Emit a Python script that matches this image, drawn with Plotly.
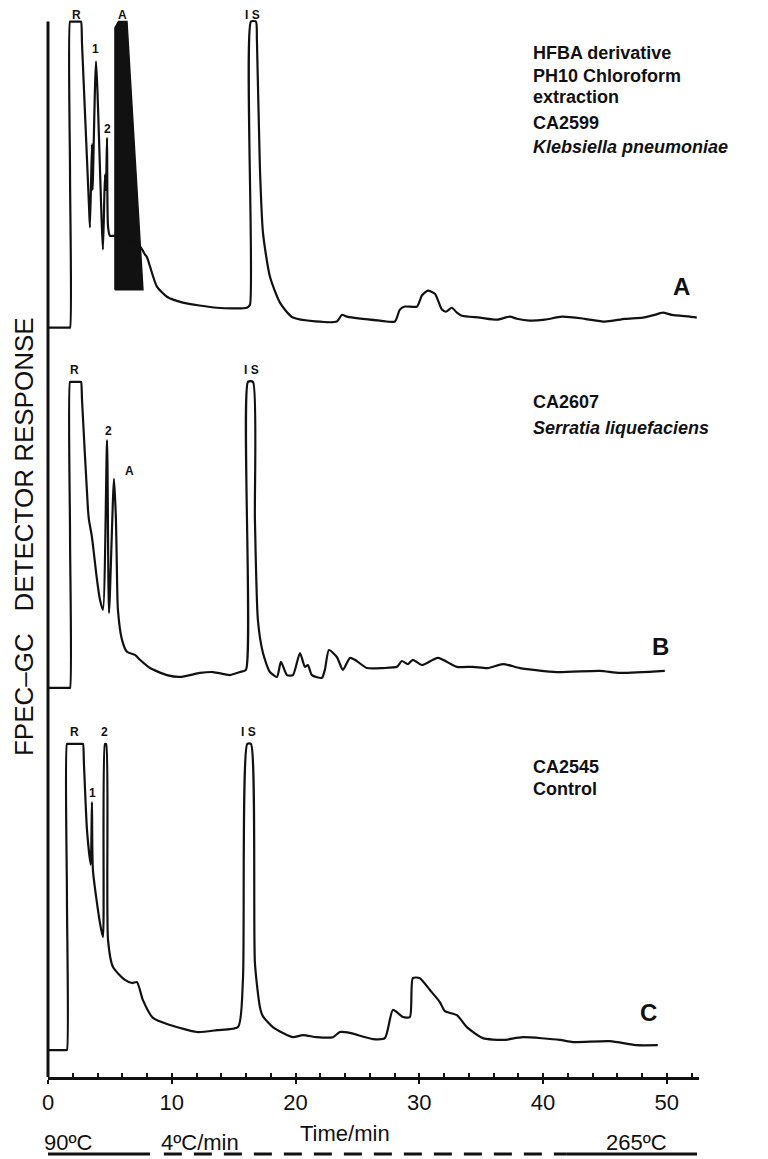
import plotly.graph_objects as go

# ---------------- data (time in min, detector response in arbitrary units; 100 = pen limit) -------------
A_time = [0, 1.70, 1.78, 1.78, 1.78, 1.86, 2.59, 2.67, 2.75, 3.31, 3.39, 3.55, 3.60, 3.88, 4.44,
          4.60, 4.68, 4.77, 4.85, 5.01, 5.41,
          7.43, 7.84, 8.00, 8.24, 8.80, 9.61, 10.90, 13.65, 16.07, 16.32, 16.40, 16.80, 16.88, 17.12,
          17.37, 17.93, 18.74, 19.79, 23.34, 23.75, 24.15, 26.82, 28.03, 28.43, 28.84, 29.81, 30.21,
          30.69, 31.26, 31.83, 32.15, 32.63, 33.04, 33.44, 34.89, 36.27, 37.32, 37.88, 38.93, 40.15,
          41.52, 43.38, 44.99, 46.61, 48.06, 49.03, 49.68, 50.40, 51.86, 52.42]
A_resp = [0, 0, 0, 50, 100, 100, 100, 100, 92.5, 40, 32.7, 60, 45, 87, 25.5,
          50, 45, 62, 33, 30, 30,
          26.5, 23.9, 23, 20, 13.4, 10.1, 8.2, 6.5, 6.5, 7.5, 100, 100, 94, 52.6,
          31, 16.7, 8.2, 3.3, 2.0, 4.2, 3.6, 2.3, 2.0, 5.9, 6.9, 6.9, 10.5,
          12.1, 11.1, 5.9, 5.2, 6.5, 4.9, 3.9, 3.3, 2.6, 3.6, 2.9, 2.3, 2.6,
          3.6, 2.9, 2.0, 2.9, 3.3, 4.2, 4.9, 4.2, 3.6, 3.3]
# unresolved (saturated) peak "A" in trace A, drawn as a solid black area
A_blob_time = [5.41, 5.41, 5.70, 6.38, 7.67, 5.41]
A_blob_resp = [12.4, 98, 100, 100, 12.4, 12.4]

B_time = [0, 1.70, 1.78, 1.78, 1.78, 1.86, 2.59, 2.67, 2.75, 3.23, 3.31, 3.55, 3.96, 4.20, 4.44,
          4.77, 4.93, 5.33, 5.49, 5.57,
          5.65, 5.98, 6.38, 7.03, 7.43, 8.24, 9.61, 10.66, 12.28, 13.33, 14.70, 15.51, 15.99, 16.16,
          16.56, 16.72, 16.96, 17.37, 17.93, 18.50, 18.82, 19.31, 19.79, 20.36, 20.76, 21.00, 21.32,
          22.13, 22.37, 22.70, 23.34, 23.83, 24.39, 24.80, 25.77, 27.06, 28.19, 28.59, 29.08, 29.48,
          30.21, 31.50, 33.04, 34.33, 35.54, 36.75, 38.13, 41.11, 44.59, 46.20, 49.84]
B_resp = [0, 0, 0, 50, 100, 100, 100, 100, 94, 58.2, 54.9, 49.3, 35.3, 28.8, 25.5,
          81.0, 24.5, 68.3, 54.9, 37.6,
          25.5, 15.7, 11.8, 10.8, 9.2, 6.5, 4.2, 3.6, 4.9, 5.2, 4.2, 5.2, 5.9, 100,
          100, 54.9, 22.2, 11.4, 5.2, 3.6, 8.5, 4.2, 4.2, 11.4, 6.9, 7.5, 4.2,
          3.3, 5.9, 12.4, 10.1, 5.9, 9.8, 9.2, 6.5, 6.5, 6.9, 8.8, 7.8, 9.2,
          7.5, 9.8, 6.9, 6.9, 6.5, 7.8, 6.5, 5.2, 5.6, 4.9, 5.6]

C_time = [0, 1.45, 1.53, 1.53, 1.53, 1.61, 2.75, 2.83, 2.90, 3.15, 3.45, 3.55, 3.63, 4.20, 4.44,
          4.60, 4.70, 4.85, 5.25, 6.22,
          6.79, 7.19, 7.67, 8.48, 9.85, 12.04, 13.65, 15.35, 15.75, 16.10, 16.40, 16.72, 17.12, 17.37,
          18.17, 18.98, 19.79, 20.60, 21.73, 23.02, 23.59, 24.39, 26.25, 27.22, 27.87, 28.68, 29.24,
          29.48, 30.05, 30.86, 31.66, 32.07, 33.04, 33.84, 35.14, 36.75, 38.37, 41.36, 42.41, 45.40,
          47.58, 49.27]
C_resp = [0, 0, 0, 50, 100, 100, 100, 100, 93.9, 71.9, 60.5, 81.0, 58.8, 41.5, 36.9,
          100, 100, 35.9, 27.1, 22.9,
          21.9, 22.2, 16.3, 10.5, 8.2, 5.9, 6.5, 7.5, 22.9, 100, 100, 28.4, 14.1, 11.0,
          7.5, 5.6, 4.2, 4.9, 4.2, 4.2, 5.9, 5.6, 3.6, 3.9, 13.1, 10.8, 10.8,
          23.5, 23.5, 19.6, 15.7, 12.7, 11.4, 7.5, 3.9, 3.3, 4.2, 3.3, 2.6, 2.9,
          1.6, 1.6]

# peak labels
A_lab_text = ["R", "1", "2", "A", "I S"]
A_lab_time = [2.34, 3.80, 4.77, 5.98, 16.56]
A_lab_resp = [102.2, 91, 65, 102.2, 102.2]
B_lab_text = ["R", "2", "A", "I S"]
B_lab_time = [2.18, 4.85, 6.62, 16.48]
B_lab_resp = [104, 84, 71, 104]
C_lab_text = ["R", "1", "2", "I S"]
C_lab_time = [2.18, 3.63, 4.60, 16.16]
C_lab_resp = [104, 84, 104, 104]

tick_vals = [0, 10, 20, 30, 40, 50]
tick_text = ["0", "10", "20", "30", "40", "50"]

# vertical stacking offsets of the three chromatograms (y units)
OFF_A, OFF_B, OFF_C = 244.8, 127.1, 8.8
Y_TOP = OFF_A + 100
PX_PER_UNIT = 3.061
PLOT_H = 1069  # plot-area height in px

INK = "#111111"
FONT = "Liberation Sans, Arial, Helvetica, sans-serif"

fig = go.Figure()

fig.add_trace(go.Scatter(x=A_blob_time, y=[OFF_A + r for r in A_blob_resp], mode="lines",
                         fill="toself", fillcolor=INK, line=dict(color=INK, width=1.5),
                         hoverinfo="skip"))
for t, r, off in [(A_time, A_resp, OFF_A), (B_time, B_resp, OFF_B), (C_time, C_resp, OFF_C)]:
    fig.add_trace(go.Scatter(x=t, y=[off + v for v in r], mode="lines",
                             line=dict(color=INK, width=2.2, shape="spline", smoothing=0.6)))

ann = []
for texts, ts, rs, off in [(A_lab_text, A_lab_time, A_lab_resp, OFF_A),
                           (B_lab_text, B_lab_time, B_lab_resp, OFF_B),
                           (C_lab_text, C_lab_time, C_lab_resp, OFF_C)]:
    for s, t, r in zip(texts, ts, rs):
        ann.append(dict(x=t, y=off + r, xref="x", yref="y", text="<b>%s</b>" % s, showarrow=False,
                        xanchor="center", yanchor="middle",
                        font=dict(family=FONT, size=12, color=INK)))

# chromatogram letters
for s, x, y in [("A", 51.2, 258.2), ("B", 49.5, 140.5), ("C", 48.5, 21.2)]:
    ann.append(dict(x=x, y=y, xref="x", yref="y", text="<b>%s</b>" % s, showarrow=False,
                    xanchor="center", yanchor="middle",
                    font=dict(family=FONT, size=24, color=INK)))

# sample descriptions
desc = [("<b>HFBA derivative</b>", 334.6), ("<b>PH10 Chloroform</b>", 327.1),
        ("<b>extraction</b>", 320.3), ("<b>CA2599</b>", 311.8),
        ("<b><i>Klebsiella pneumoniae</i></b>", 303.9),
        ("<b>CA2607</b>", 220.6), ("<b><i>Serratia liquefaciens</i></b>", 212.1),
        ("<b>CA2545</b>", 101.3), ("<b>Control</b>", 94.1)]
for s, y in desc:
    ann.append(dict(x=39.0, y=y, xref="x", yref="y", text=s, showarrow=False,
                    xanchor="left", yanchor="middle",
                    font=dict(family=FONT, size=18, color=INK)))

# axis title and temperature programme (paper coordinates)
ann.append(dict(x=-0.0369, y=0.506, xref="paper", yref="paper", textangle=-90, showarrow=False,
                xanchor="center", yanchor="middle",
                text="FPEC\u2013GC\u00a0\u00a0\u00a0DETECTOR RESPONSE",
                font=dict(family=FONT, size=26, color=INK)))
ann.append(dict(x=0.384, y=-0.0524, xref="paper", yref="paper", xanchor="left", yanchor="middle",
                showarrow=False, text="Time/min", font=dict(family=FONT, size=22, color=INK)))
for s, x in [("90\u00baC", -0.0092), ("4\u00baC/min", 0.1705), ("265\u00baC", 0.854)]:
    ann.append(dict(x=x, y=-0.0617, xref="paper", yref="paper", xanchor="left", yanchor="middle",
                    showarrow=False, text=s, font=dict(family=FONT, size=22, color=INK)))

y_temp = -0.072
shapes = [
    # y-axis line (from the x axis up to the pen limit of the top trace)
    dict(type="line", xref="paper", yref="paper", x0=0, x1=0, y0=0,
         y1=Y_TOP * PX_PER_UNIT / PLOT_H, line=dict(color=INK, width=3)),
    dict(type="line", xref="paper", yref="paper", x0=0, x1=0.1567, y0=y_temp, y1=y_temp,
         line=dict(color=INK, width=3)),
    dict(type="line", xref="paper", yref="paper", x0=0.178, x1=0.797, y0=y_temp, y1=y_temp,
         line=dict(color=INK, width=3, dash="18px,12px")),
    dict(type="line", xref="paper", yref="paper", x0=0.797, x1=0.997, y0=y_temp, y1=y_temp,
         line=dict(color=INK, width=3)),
]

# the page body adds an 8 px margin, so the layout is laid out 8 px up/left of the target
fig.update_layout(
    width=768, height=1159,
    margin=dict(l=40, r=77, t=0, b=90),
    paper_bgcolor="white", plot_bgcolor="white",
    showlegend=False,
    annotations=ann, shapes=shapes,
    xaxis=dict(range=[0, 52.6], tickmode="array", tickvals=tick_vals, ticktext=tick_text,
               ticks="outside", ticklen=4, tickwidth=2, tickcolor=INK,
               showline=True, linecolor=INK, linewidth=3, showgrid=False, zeroline=False,
               tickfont=dict(family=FONT, size=22, color=INK),
               minor=dict(ticks="inside", dtick=2, ticklen=4, tickwidth=1.5, tickcolor=INK,
                          showgrid=False)),
    yaxis=dict(range=[0, PLOT_H / PX_PER_UNIT], showline=False, showticklabels=False,
               ticks="", showgrid=False, zeroline=False),
)

fig.write_html("out.html")
